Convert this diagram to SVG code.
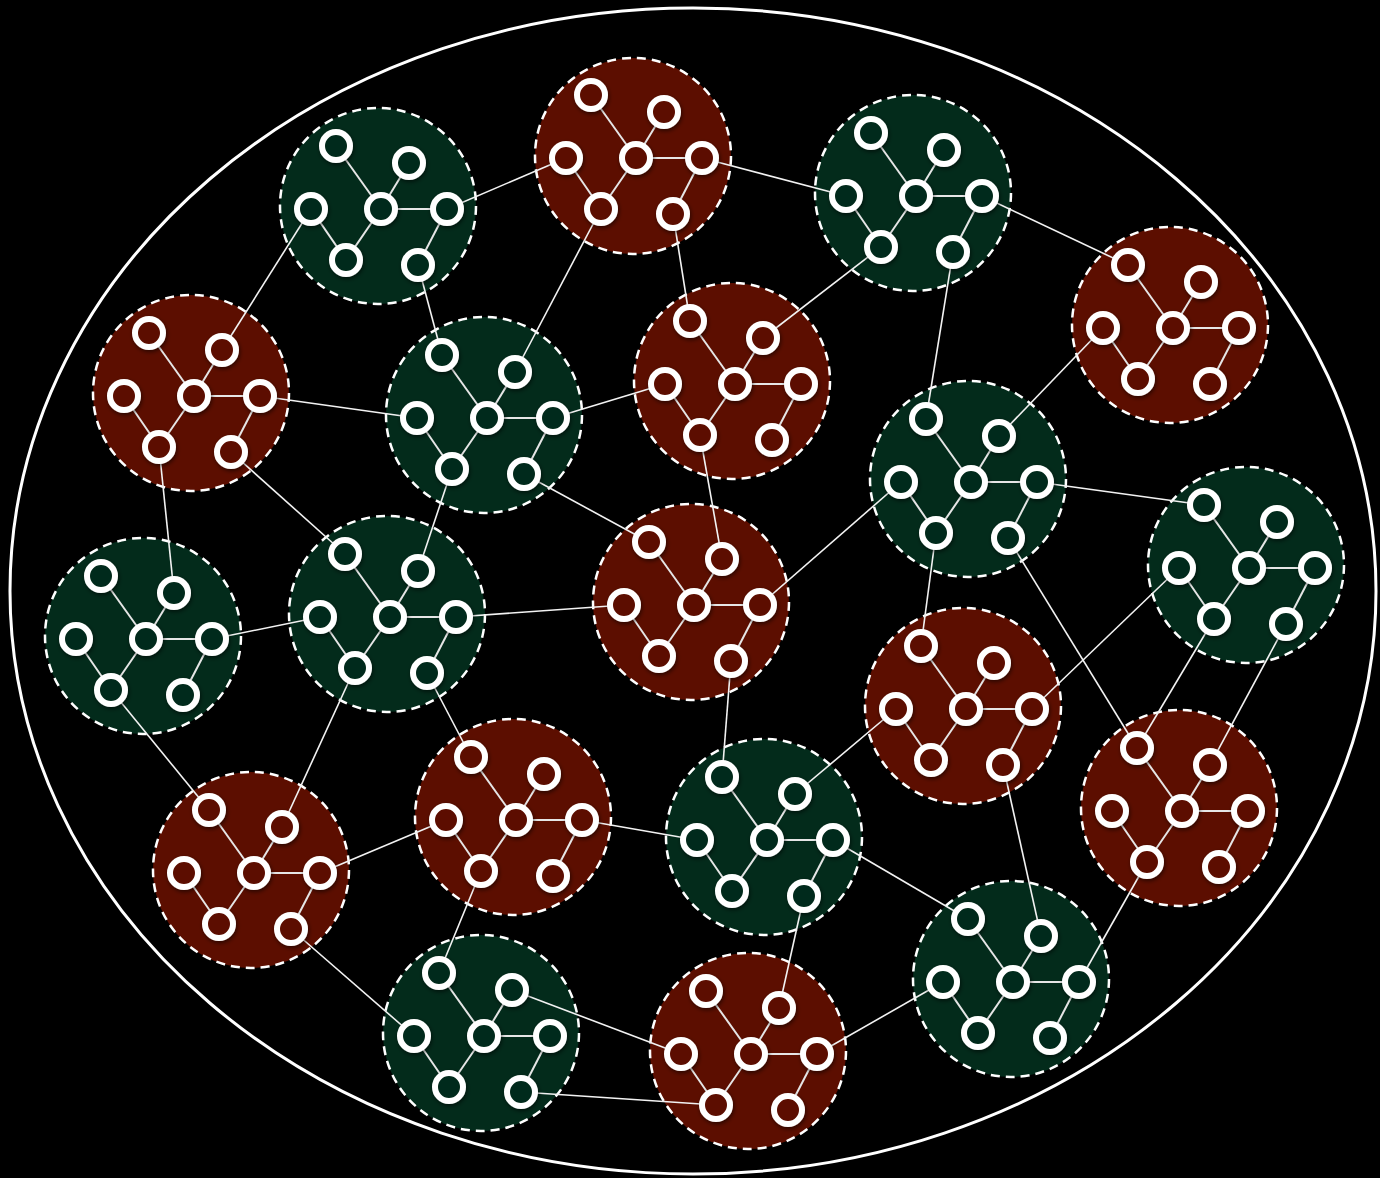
<svg xmlns="http://www.w3.org/2000/svg" width="1380" height="1178" viewBox="0 0 1380 1178">
<style>
.bg{fill:#000}
.outer{fill:none;stroke:#fff;stroke-width:3}
.region{stroke:#fff;stroke-width:2.5;stroke-dasharray:9 6}
.g{fill:#032b1b}
.r{fill:#5c0e00}
.conn line{stroke:#f2f2f2;stroke-width:1.6}
.in line{stroke:#e6e6e6;stroke-width:2}
.nd circle{stroke:#fff;stroke-width:6;filter:url(#sh)}
</style>
<defs>
<filter id="sh" x="-50%" y="-50%" width="200%" height="200%">
<feDropShadow dx="1" dy="2" stdDeviation="2" flood-color="#000" flood-opacity="0.55"/>
</filter>
</defs>
<rect class="bg" x="0" y="0" width="1380" height="1178"/>
<ellipse class="outer" cx="693" cy="591" rx="683" ry="583"/>
<g id="regions">
<circle id="region-1" class="region g" cx="378" cy="206" r="98"/>
<circle id="region-2" class="region r" cx="633" cy="156" r="98"/>
<circle id="region-3" class="region g" cx="913" cy="193" r="98"/>
<circle id="region-4" class="region r" cx="1170" cy="325" r="98"/>
<circle id="region-5" class="region r" cx="191" cy="393" r="98"/>
<circle id="region-6" class="region g" cx="484" cy="415" r="98"/>
<circle id="region-7" class="region r" cx="732" cy="381" r="98"/>
<circle id="region-8" class="region g" cx="968" cy="479" r="98"/>
<circle id="region-9" class="region g" cx="1246" cy="565" r="98"/>
<circle id="region-10" class="region g" cx="143" cy="636" r="98"/>
<circle id="region-11" class="region g" cx="387" cy="614" r="98"/>
<circle id="region-12" class="region r" cx="691" cy="602" r="98"/>
<circle id="region-13" class="region r" cx="963" cy="706" r="98"/>
<circle id="region-14" class="region r" cx="1179" cy="808" r="98"/>
<circle id="region-15" class="region r" cx="251" cy="870" r="98"/>
<circle id="region-16" class="region r" cx="513" cy="817" r="98"/>
<circle id="region-17" class="region g" cx="764" cy="837" r="98"/>
<circle id="region-18" class="region g" cx="1011" cy="979" r="98"/>
<circle id="region-19" class="region g" cx="481" cy="1033" r="98"/>
<circle id="region-20" class="region r" cx="748" cy="1051" r="98"/>
</g>
<g id="connectors" class="conn">
<line x1="447" y1="209" x2="566" y2="158"/>
<line x1="702" y1="158" x2="846" y2="196"/>
<line x1="982" y1="196" x2="1128" y2="265"/>
<line x1="311" y1="209" x2="222" y2="350"/>
<line x1="418" y1="265" x2="442" y2="355"/>
<line x1="601" y1="209" x2="515" y2="372"/>
<line x1="673" y1="214" x2="690" y2="321"/>
<line x1="881" y1="247" x2="763" y2="338"/>
<line x1="953" y1="252" x2="926" y2="419"/>
<line x1="1103" y1="328" x2="999" y2="436"/>
<line x1="260" y1="396" x2="417" y2="418"/>
<line x1="553" y1="418" x2="665" y2="384"/>
<line x1="159" y1="447" x2="174" y2="593"/>
<line x1="231" y1="452" x2="345" y2="554"/>
<line x1="452" y1="469" x2="418" y2="571"/>
<line x1="524" y1="474" x2="649" y2="542"/>
<line x1="700" y1="435" x2="722" y2="559"/>
<line x1="901" y1="482" x2="760" y2="605"/>
<line x1="1037" y1="482" x2="1204" y2="505"/>
<line x1="936" y1="533" x2="921" y2="646"/>
<line x1="1008" y1="538" x2="1137" y2="748"/>
<line x1="1179" y1="568" x2="1032" y2="709"/>
<line x1="1214" y1="619" x2="1137" y2="748"/>
<line x1="1286" y1="624" x2="1210" y2="765"/>
<line x1="212" y1="639" x2="320" y2="617"/>
<line x1="111" y1="690" x2="209" y2="810"/>
<line x1="456" y1="617" x2="624" y2="605"/>
<line x1="355" y1="668" x2="282" y2="827"/>
<line x1="427" y1="673" x2="471" y2="757"/>
<line x1="731" y1="661" x2="722" y2="777"/>
<line x1="896" y1="709" x2="795" y2="794"/>
<line x1="1003" y1="765" x2="1041" y2="936"/>
<line x1="320" y1="873" x2="446" y2="820"/>
<line x1="582" y1="820" x2="697" y2="840"/>
<line x1="833" y1="840" x2="968" y2="919"/>
<line x1="481" y1="871" x2="439" y2="973"/>
<line x1="291" y1="929" x2="414" y2="1036"/>
<line x1="804" y1="896" x2="779" y2="1008"/>
<line x1="512" y1="990" x2="681" y2="1054"/>
<line x1="521" y1="1092" x2="716" y2="1105"/>
<line x1="817" y1="1054" x2="943" y2="982"/>
<line x1="1079" y1="982" x2="1147" y2="862"/>
</g>
<g id="cluster-1" class="g" transform="translate(381,209)"><g class="in"><line x1="-45" y1="-63" x2="0" y2="0"/><line x1="28" y1="-46" x2="0" y2="0"/><line x1="0" y1="0" x2="66" y2="0"/><line x1="-70" y1="0" x2="-35" y2="51"/><line x1="0" y1="0" x2="-35" y2="51"/><line x1="66" y1="0" x2="37" y2="56"/></g><g class="nd"><circle cx="-45" cy="-63" r="14"/><circle cx="28" cy="-46" r="14"/><circle cx="-70" cy="0" r="14"/><circle cx="0" cy="0" r="14"/><circle cx="66" cy="0" r="14"/><circle cx="-35" cy="51" r="14"/><circle cx="37" cy="56" r="14"/></g></g>
<g id="cluster-2" class="r" transform="translate(636,158)"><g class="in"><line x1="-45" y1="-63" x2="0" y2="0"/><line x1="28" y1="-46" x2="0" y2="0"/><line x1="0" y1="0" x2="66" y2="0"/><line x1="-70" y1="0" x2="-35" y2="51"/><line x1="0" y1="0" x2="-35" y2="51"/><line x1="66" y1="0" x2="37" y2="56"/></g><g class="nd"><circle cx="-45" cy="-63" r="14"/><circle cx="28" cy="-46" r="14"/><circle cx="-70" cy="0" r="14"/><circle cx="0" cy="0" r="14"/><circle cx="66" cy="0" r="14"/><circle cx="-35" cy="51" r="14"/><circle cx="37" cy="56" r="14"/></g></g>
<g id="cluster-3" class="g" transform="translate(916,196)"><g class="in"><line x1="-45" y1="-63" x2="0" y2="0"/><line x1="28" y1="-46" x2="0" y2="0"/><line x1="0" y1="0" x2="66" y2="0"/><line x1="-70" y1="0" x2="-35" y2="51"/><line x1="0" y1="0" x2="-35" y2="51"/><line x1="66" y1="0" x2="37" y2="56"/></g><g class="nd"><circle cx="-45" cy="-63" r="14"/><circle cx="28" cy="-46" r="14"/><circle cx="-70" cy="0" r="14"/><circle cx="0" cy="0" r="14"/><circle cx="66" cy="0" r="14"/><circle cx="-35" cy="51" r="14"/><circle cx="37" cy="56" r="14"/></g></g>
<g id="cluster-4" class="r" transform="translate(1173,328)"><g class="in"><line x1="-45" y1="-63" x2="0" y2="0"/><line x1="28" y1="-46" x2="0" y2="0"/><line x1="0" y1="0" x2="66" y2="0"/><line x1="-70" y1="0" x2="-35" y2="51"/><line x1="0" y1="0" x2="-35" y2="51"/><line x1="66" y1="0" x2="37" y2="56"/></g><g class="nd"><circle cx="-45" cy="-63" r="14"/><circle cx="28" cy="-46" r="14"/><circle cx="-70" cy="0" r="14"/><circle cx="0" cy="0" r="14"/><circle cx="66" cy="0" r="14"/><circle cx="-35" cy="51" r="14"/><circle cx="37" cy="56" r="14"/></g></g>
<g id="cluster-5" class="r" transform="translate(194,396)"><g class="in"><line x1="-45" y1="-63" x2="0" y2="0"/><line x1="28" y1="-46" x2="0" y2="0"/><line x1="0" y1="0" x2="66" y2="0"/><line x1="-70" y1="0" x2="-35" y2="51"/><line x1="0" y1="0" x2="-35" y2="51"/><line x1="66" y1="0" x2="37" y2="56"/></g><g class="nd"><circle cx="-45" cy="-63" r="14"/><circle cx="28" cy="-46" r="14"/><circle cx="-70" cy="0" r="14"/><circle cx="0" cy="0" r="14"/><circle cx="66" cy="0" r="14"/><circle cx="-35" cy="51" r="14"/><circle cx="37" cy="56" r="14"/></g></g>
<g id="cluster-6" class="g" transform="translate(487,418)"><g class="in"><line x1="-45" y1="-63" x2="0" y2="0"/><line x1="28" y1="-46" x2="0" y2="0"/><line x1="0" y1="0" x2="66" y2="0"/><line x1="-70" y1="0" x2="-35" y2="51"/><line x1="0" y1="0" x2="-35" y2="51"/><line x1="66" y1="0" x2="37" y2="56"/></g><g class="nd"><circle cx="-45" cy="-63" r="14"/><circle cx="28" cy="-46" r="14"/><circle cx="-70" cy="0" r="14"/><circle cx="0" cy="0" r="14"/><circle cx="66" cy="0" r="14"/><circle cx="-35" cy="51" r="14"/><circle cx="37" cy="56" r="14"/></g></g>
<g id="cluster-7" class="r" transform="translate(735,384)"><g class="in"><line x1="-45" y1="-63" x2="0" y2="0"/><line x1="28" y1="-46" x2="0" y2="0"/><line x1="0" y1="0" x2="66" y2="0"/><line x1="-70" y1="0" x2="-35" y2="51"/><line x1="0" y1="0" x2="-35" y2="51"/><line x1="66" y1="0" x2="37" y2="56"/></g><g class="nd"><circle cx="-45" cy="-63" r="14"/><circle cx="28" cy="-46" r="14"/><circle cx="-70" cy="0" r="14"/><circle cx="0" cy="0" r="14"/><circle cx="66" cy="0" r="14"/><circle cx="-35" cy="51" r="14"/><circle cx="37" cy="56" r="14"/></g></g>
<g id="cluster-8" class="g" transform="translate(971,482)"><g class="in"><line x1="-45" y1="-63" x2="0" y2="0"/><line x1="28" y1="-46" x2="0" y2="0"/><line x1="0" y1="0" x2="66" y2="0"/><line x1="-70" y1="0" x2="-35" y2="51"/><line x1="0" y1="0" x2="-35" y2="51"/><line x1="66" y1="0" x2="37" y2="56"/></g><g class="nd"><circle cx="-45" cy="-63" r="14"/><circle cx="28" cy="-46" r="14"/><circle cx="-70" cy="0" r="14"/><circle cx="0" cy="0" r="14"/><circle cx="66" cy="0" r="14"/><circle cx="-35" cy="51" r="14"/><circle cx="37" cy="56" r="14"/></g></g>
<g id="cluster-9" class="g" transform="translate(1249,568)"><g class="in"><line x1="-45" y1="-63" x2="0" y2="0"/><line x1="28" y1="-46" x2="0" y2="0"/><line x1="0" y1="0" x2="66" y2="0"/><line x1="-70" y1="0" x2="-35" y2="51"/><line x1="0" y1="0" x2="-35" y2="51"/><line x1="66" y1="0" x2="37" y2="56"/></g><g class="nd"><circle cx="-45" cy="-63" r="14"/><circle cx="28" cy="-46" r="14"/><circle cx="-70" cy="0" r="14"/><circle cx="0" cy="0" r="14"/><circle cx="66" cy="0" r="14"/><circle cx="-35" cy="51" r="14"/><circle cx="37" cy="56" r="14"/></g></g>
<g id="cluster-10" class="g" transform="translate(146,639)"><g class="in"><line x1="-45" y1="-63" x2="0" y2="0"/><line x1="28" y1="-46" x2="0" y2="0"/><line x1="0" y1="0" x2="66" y2="0"/><line x1="-70" y1="0" x2="-35" y2="51"/><line x1="0" y1="0" x2="-35" y2="51"/><line x1="66" y1="0" x2="37" y2="56"/></g><g class="nd"><circle cx="-45" cy="-63" r="14"/><circle cx="28" cy="-46" r="14"/><circle cx="-70" cy="0" r="14"/><circle cx="0" cy="0" r="14"/><circle cx="66" cy="0" r="14"/><circle cx="-35" cy="51" r="14"/><circle cx="37" cy="56" r="14"/></g></g>
<g id="cluster-11" class="g" transform="translate(390,617)"><g class="in"><line x1="-45" y1="-63" x2="0" y2="0"/><line x1="28" y1="-46" x2="0" y2="0"/><line x1="0" y1="0" x2="66" y2="0"/><line x1="-70" y1="0" x2="-35" y2="51"/><line x1="0" y1="0" x2="-35" y2="51"/><line x1="66" y1="0" x2="37" y2="56"/></g><g class="nd"><circle cx="-45" cy="-63" r="14"/><circle cx="28" cy="-46" r="14"/><circle cx="-70" cy="0" r="14"/><circle cx="0" cy="0" r="14"/><circle cx="66" cy="0" r="14"/><circle cx="-35" cy="51" r="14"/><circle cx="37" cy="56" r="14"/></g></g>
<g id="cluster-12" class="r" transform="translate(694,605)"><g class="in"><line x1="-45" y1="-63" x2="0" y2="0"/><line x1="28" y1="-46" x2="0" y2="0"/><line x1="0" y1="0" x2="66" y2="0"/><line x1="-70" y1="0" x2="-35" y2="51"/><line x1="0" y1="0" x2="-35" y2="51"/><line x1="66" y1="0" x2="37" y2="56"/></g><g class="nd"><circle cx="-45" cy="-63" r="14"/><circle cx="28" cy="-46" r="14"/><circle cx="-70" cy="0" r="14"/><circle cx="0" cy="0" r="14"/><circle cx="66" cy="0" r="14"/><circle cx="-35" cy="51" r="14"/><circle cx="37" cy="56" r="14"/></g></g>
<g id="cluster-13" class="r" transform="translate(966,709)"><g class="in"><line x1="-45" y1="-63" x2="0" y2="0"/><line x1="28" y1="-46" x2="0" y2="0"/><line x1="0" y1="0" x2="66" y2="0"/><line x1="-70" y1="0" x2="-35" y2="51"/><line x1="0" y1="0" x2="-35" y2="51"/><line x1="66" y1="0" x2="37" y2="56"/></g><g class="nd"><circle cx="-45" cy="-63" r="14"/><circle cx="28" cy="-46" r="14"/><circle cx="-70" cy="0" r="14"/><circle cx="0" cy="0" r="14"/><circle cx="66" cy="0" r="14"/><circle cx="-35" cy="51" r="14"/><circle cx="37" cy="56" r="14"/></g></g>
<g id="cluster-14" class="r" transform="translate(1182,811)"><g class="in"><line x1="-45" y1="-63" x2="0" y2="0"/><line x1="28" y1="-46" x2="0" y2="0"/><line x1="0" y1="0" x2="66" y2="0"/><line x1="-70" y1="0" x2="-35" y2="51"/><line x1="0" y1="0" x2="-35" y2="51"/><line x1="66" y1="0" x2="37" y2="56"/></g><g class="nd"><circle cx="-45" cy="-63" r="14"/><circle cx="28" cy="-46" r="14"/><circle cx="-70" cy="0" r="14"/><circle cx="0" cy="0" r="14"/><circle cx="66" cy="0" r="14"/><circle cx="-35" cy="51" r="14"/><circle cx="37" cy="56" r="14"/></g></g>
<g id="cluster-15" class="r" transform="translate(254,873)"><g class="in"><line x1="-45" y1="-63" x2="0" y2="0"/><line x1="28" y1="-46" x2="0" y2="0"/><line x1="0" y1="0" x2="66" y2="0"/><line x1="-70" y1="0" x2="-35" y2="51"/><line x1="0" y1="0" x2="-35" y2="51"/><line x1="66" y1="0" x2="37" y2="56"/></g><g class="nd"><circle cx="-45" cy="-63" r="14"/><circle cx="28" cy="-46" r="14"/><circle cx="-70" cy="0" r="14"/><circle cx="0" cy="0" r="14"/><circle cx="66" cy="0" r="14"/><circle cx="-35" cy="51" r="14"/><circle cx="37" cy="56" r="14"/></g></g>
<g id="cluster-16" class="r" transform="translate(516,820)"><g class="in"><line x1="-45" y1="-63" x2="0" y2="0"/><line x1="28" y1="-46" x2="0" y2="0"/><line x1="0" y1="0" x2="66" y2="0"/><line x1="-70" y1="0" x2="-35" y2="51"/><line x1="0" y1="0" x2="-35" y2="51"/><line x1="66" y1="0" x2="37" y2="56"/></g><g class="nd"><circle cx="-45" cy="-63" r="14"/><circle cx="28" cy="-46" r="14"/><circle cx="-70" cy="0" r="14"/><circle cx="0" cy="0" r="14"/><circle cx="66" cy="0" r="14"/><circle cx="-35" cy="51" r="14"/><circle cx="37" cy="56" r="14"/></g></g>
<g id="cluster-17" class="g" transform="translate(767,840)"><g class="in"><line x1="-45" y1="-63" x2="0" y2="0"/><line x1="28" y1="-46" x2="0" y2="0"/><line x1="0" y1="0" x2="66" y2="0"/><line x1="-70" y1="0" x2="-35" y2="51"/><line x1="0" y1="0" x2="-35" y2="51"/><line x1="66" y1="0" x2="37" y2="56"/></g><g class="nd"><circle cx="-45" cy="-63" r="14"/><circle cx="28" cy="-46" r="14"/><circle cx="-70" cy="0" r="14"/><circle cx="0" cy="0" r="14"/><circle cx="66" cy="0" r="14"/><circle cx="-35" cy="51" r="14"/><circle cx="37" cy="56" r="14"/></g></g>
<g id="cluster-18" class="g" transform="translate(1013,982)"><g class="in"><line x1="-45" y1="-63" x2="0" y2="0"/><line x1="28" y1="-46" x2="0" y2="0"/><line x1="0" y1="0" x2="66" y2="0"/><line x1="-70" y1="0" x2="-35" y2="51"/><line x1="0" y1="0" x2="-35" y2="51"/><line x1="66" y1="0" x2="37" y2="56"/></g><g class="nd"><circle cx="-45" cy="-63" r="14"/><circle cx="28" cy="-46" r="14"/><circle cx="-70" cy="0" r="14"/><circle cx="0" cy="0" r="14"/><circle cx="66" cy="0" r="14"/><circle cx="-35" cy="51" r="14"/><circle cx="37" cy="56" r="14"/></g></g>
<g id="cluster-19" class="g" transform="translate(484,1036)"><g class="in"><line x1="-45" y1="-63" x2="0" y2="0"/><line x1="28" y1="-46" x2="0" y2="0"/><line x1="0" y1="0" x2="66" y2="0"/><line x1="-70" y1="0" x2="-35" y2="51"/><line x1="0" y1="0" x2="-35" y2="51"/><line x1="66" y1="0" x2="37" y2="56"/></g><g class="nd"><circle cx="-45" cy="-63" r="14"/><circle cx="28" cy="-46" r="14"/><circle cx="-70" cy="0" r="14"/><circle cx="0" cy="0" r="14"/><circle cx="66" cy="0" r="14"/><circle cx="-35" cy="51" r="14"/><circle cx="37" cy="56" r="14"/></g></g>
<g id="cluster-20" class="r" transform="translate(751,1054)"><g class="in"><line x1="-45" y1="-63" x2="0" y2="0"/><line x1="28" y1="-46" x2="0" y2="0"/><line x1="0" y1="0" x2="66" y2="0"/><line x1="-70" y1="0" x2="-35" y2="51"/><line x1="0" y1="0" x2="-35" y2="51"/><line x1="66" y1="0" x2="37" y2="56"/></g><g class="nd"><circle cx="-45" cy="-63" r="14"/><circle cx="28" cy="-46" r="14"/><circle cx="-70" cy="0" r="14"/><circle cx="0" cy="0" r="14"/><circle cx="66" cy="0" r="14"/><circle cx="-35" cy="51" r="14"/><circle cx="37" cy="56" r="14"/></g></g>
</svg>
